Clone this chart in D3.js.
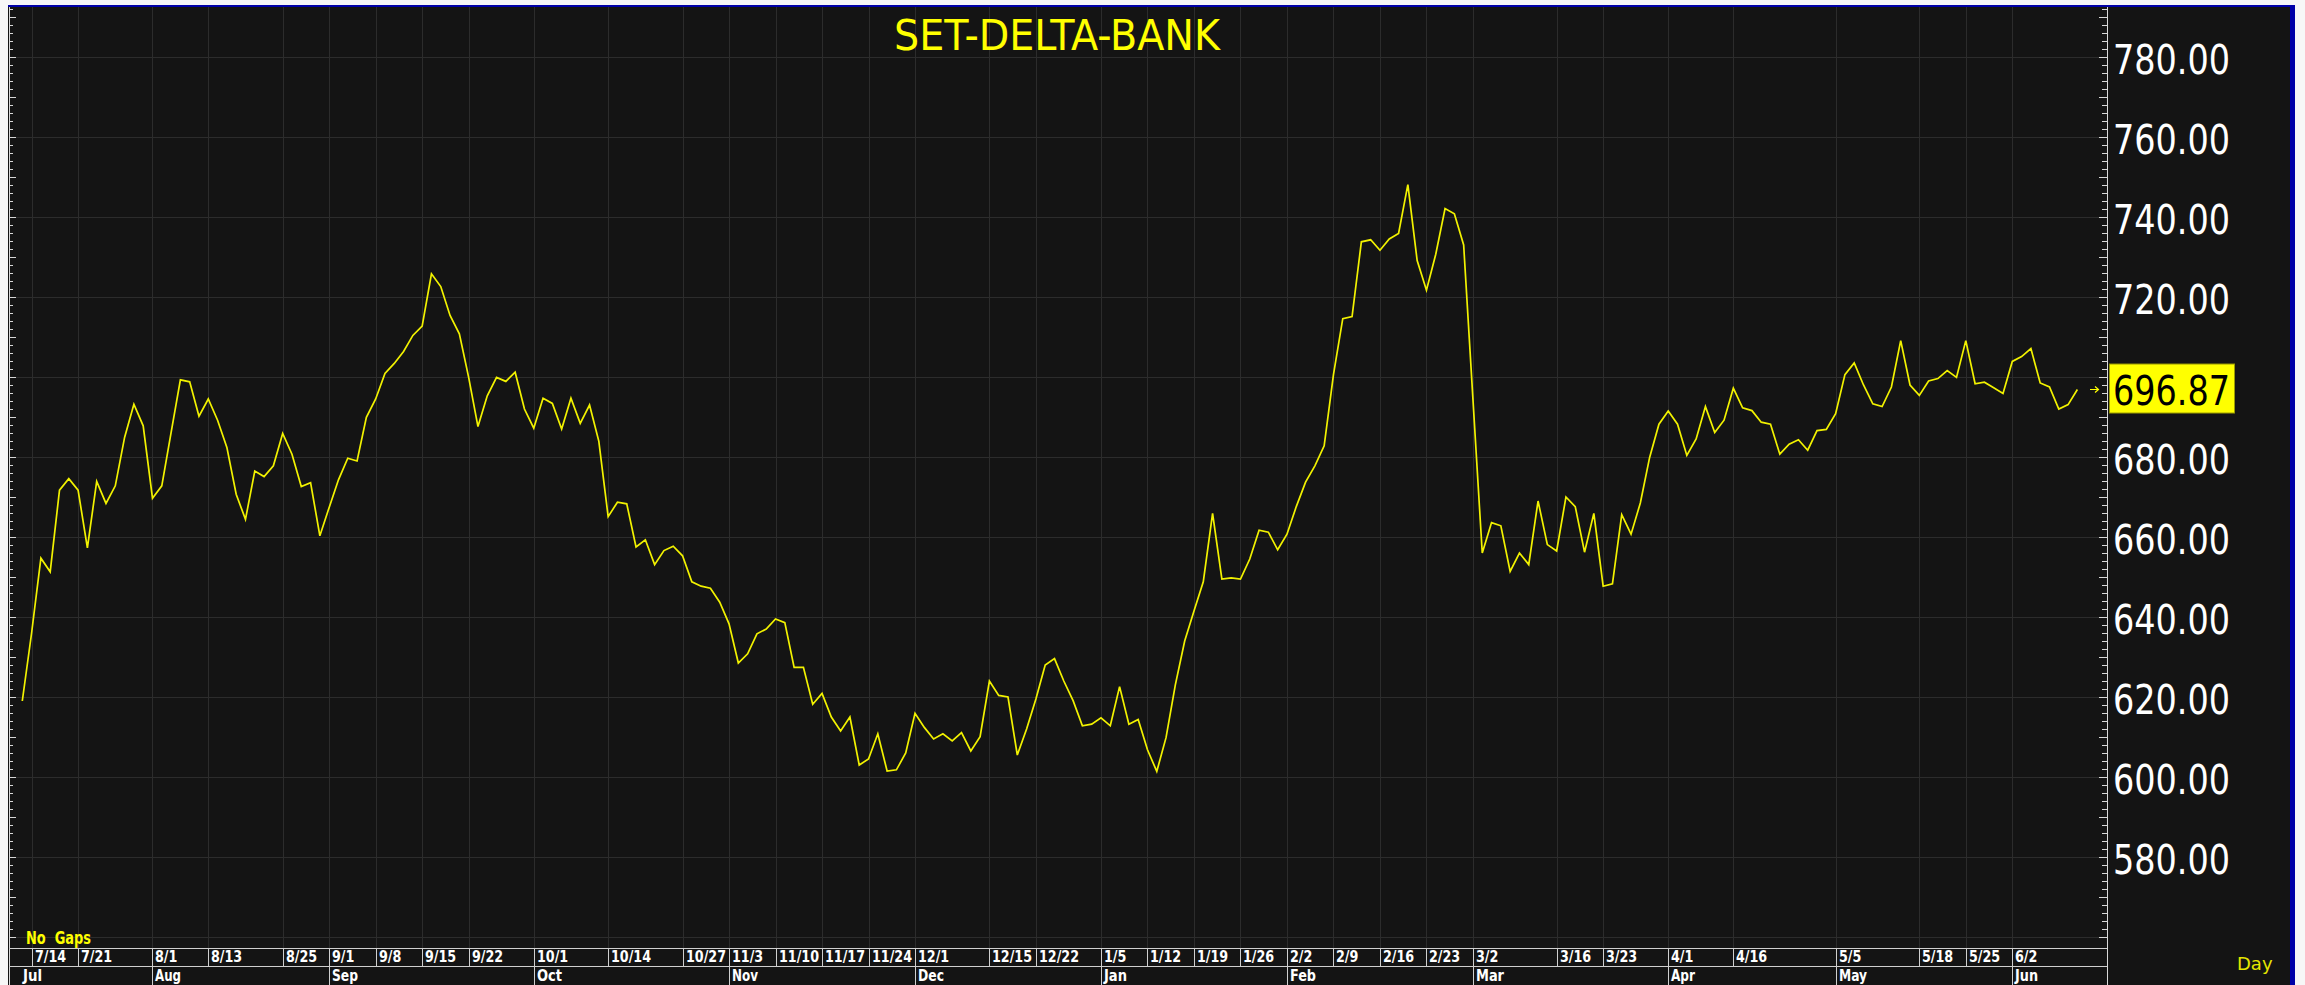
<!DOCTYPE html>
<html><head><meta charset="utf-8">
<script src="https://cdn.jsdelivr.net/npm/d3@7"></script>
<style>html,body{margin:0;padding:0;background:#fff;overflow:hidden}</style>
</head><body>
<svg id="c" width="2305" height="985"></svg>
<script>
// ---------- DATA ----------
const chartTitle = "SET-DELTA-BANK";
const periodLabel = "Day";
const gapLabel = "No  Gaps";
const firstIndex = -1; // trading-day index of first close (7/11)
const closes = [
619,636,654.7,651.3,671.7,674.6,671.7,657.3,673.9,668.4,672.8,684.9,693.2,687.8,669.7,672.8,686.1,699.3,698.8,690.2,
694.5,689.2,682.4,670.7,664.4,676.5,675.1,677.8,685.9,680.7,672.6,673.6,660.3,667.4,674.3,679.7,679.0,689.9,694.5,700.9,
703.4,706.4,710.4,712.7,725.8,722.6,715.4,710.8,699.9,687.6,695.3,699.9,698.9,701.2,692.0,687.2,694.7,693.4,687.0,694.7,
688.4,693.0,683.9,665.1,668.7,668.3,657.5,659.3,653.1,656.6,657.7,655.3,648.8,647.7,647.2,643.7,638.3,628.5,630.8,635.8,
637.0,639.5,638.6,627.4,627.4,618.2,620.9,615.0,611.5,615.0,603.0,604.5,610.8,601.5,601.8,606.0,615.9,612.4,609.5,610.8,
609.0,611.1,606.5,610.1,624.0,620.4,620.0,605.5,612.0,619.5,628.0,629.6,624.0,619.1,612.8,613.2,614.8,612.8,622.6,613.2,
614.4,606.8,601.4,609.9,623.1,634.0,641.5,648.8,665.9,649.5,649.8,649.5,654.5,661.7,661.2,656.8,660.7,667.6,673.7,677.8,
682.8,700.6,714.6,715.1,733.8,734.3,731.7,734.5,735.9,748.1,729.1,721.7,730.7,742.1,740.8,733.0,694.4,656.0,663.6,662.8,
651.4,656.0,653.1,669.0,658.1,656.5,670.0,667.6,656.2,665.9,647.7,648.3,665.6,660.7,668.5,679.9,688.2,691.5,688.2,680.4,
684.5,692.6,686.1,689.2,697.2,692.3,691.6,688.7,688.2,680.7,683.2,684.3,681.7,686.6,686.9,690.8,700.6,703.5,698.0,693.3,
692.6,697.5,709.1,698.0,695.4,699.0,699.6,701.6,699.9,709.1,698.3,698.7,697.3,695.9,703.9,705.1,707.1,698.5,697.5,692.0,
693.1,696.87
];
const xTickLabels = ["7/14","7/21","8/1","8/13","8/25","9/1","9/8","9/15","9/22","10/1","10/14","10/27","11/3","11/10","11/17","11/24","12/1","12/15","12/22","1/5","1/12","1/19","1/26","2/2","2/9","2/16","2/23","3/2","3/16","3/23","4/1","4/16","5/5","5/18","5/25","6/2"];
const xTickIndex  = [0,5,13,19,27,32,37,42,47,54,62,70,75,80,85,90,95,103,108,115,120,125,130,135,140,145,150,155,164,169,176,183,194,203,208,213];
const monthLabels = ["Jul","Aug","Sep","Oct","Nov","Dec","Jan","Feb","Mar","Apr","May","Jun"];
const monthIndex  = [-1,13,32,54,75,95,115,135,155,176,194,213];
const yTickValues = [780,760,740,720,680,660,640,620,600,580]; // 700 is hidden by the last-value box
const lastValue = 696.87;

// ---------- LAYOUT ----------
const W = 2305, H = 985;
const plotL = 9, plotR = 2107, plotT = 7, plotB = 948;
const bandMid = 966;
const svg = d3.select("#c");

const x = d3.scaleLinear().domain([0, 213]).range([31.6, 2012.3]);
const y = d3.scaleLinear().domain([780, 600]).range([57, 777]);

// backgrounds
svg.append("rect").attr("x",0).attr("y",0).attr("width",W).attr("height",H).attr("fill","#f7f7f7");
svg.append("rect").attr("x",8).attr("y",5).attr("width",2287).attr("height",H-5).attr("fill","#0000a8");
svg.append("rect").attr("x",8).attr("y",7).attr("width",2282).attr("height",H-7).attr("fill","#141414");

const grid = svg.append("g").attr("stroke","#2c2c2c").attr("stroke-width",1.2).attr("shape-rendering","crispEdges");
d3.range(560, 800, 20).forEach(v => {
  const yy = Math.round(y(v)) + 0.5;
  if (yy > plotT && yy < plotB) grid.append("line").attr("x1",plotL).attr("x2",plotR).attr("y1",yy).attr("y2",yy);
});
xTickIndex.forEach(i => {
  const xx = Math.round(x(i)) + 0.5;
  grid.append("line").attr("x1",xx).attr("x2",xx).attr("y1",plotT).attr("y2",plotB);
});

// title
svg.append("text").attr("x",894).attr("y",50).attr("font-family","'DejaVu Sans Condensed','DejaVu Sans',sans-serif")
  .attr("font-size",42).attr("fill","#ffff00").attr("textLength",326).attr("lengthAdjust","spacingAndGlyphs").text(chartTitle);

// line
svg.append("defs").append("clipPath").attr("id","clip").append("rect")
  .attr("x",plotL).attr("y",plotT).attr("width",plotR-plotL).attr("height",plotB-plotT);
const line = d3.line().x((d,i)=>x(i+firstIndex)).y(d=>y(d));
svg.append("path").datum(closes).attr("clip-path","url(#clip)").attr("d",line)
  .attr("fill","none").attr("stroke","#f2f200").attr("stroke-width",1.7).attr("stroke-linejoin","miter");

// axes lines
const axisCol = "#d8d8d8";
const ax = svg.append("g").attr("stroke",axisCol).attr("shape-rendering","crispEdges");
ax.append("line").attr("x1",plotL+0.5).attr("x2",plotL+0.5).attr("y1",plotT).attr("y2",H).attr("stroke-width",1.5);
ax.append("line").attr("x1",plotR+0.5).attr("x2",plotR+0.5).attr("y1",plotT).attr("y2",H).attr("stroke-width",1.5);
d3.range(558, 794, 2).forEach(v => {
  const yy = Math.round(y(v)) + 0.5;
  if (yy < plotT+2 || yy > plotB-4) return;
  const major = (v % 10 === 0);
  ax.append("line").attr("x1",plotL).attr("x2",plotL + (major?7:4)).attr("y1",yy).attr("y2",yy);
  ax.append("line").attr("x1",plotR - (major?8:5)).attr("x2",plotR).attr("y1",yy).attr("y2",yy);
});

// right axis labels
const numFont = "'DejaVu Sans Condensed','DejaVu Sans',sans-serif";
yTickValues.forEach(v => {
  svg.append("text").attr("x",2113).attr("y",y(v)+16.5)
    .attr("font-family",numFont).attr("font-size",40)
    .attr("textLength",117).attr("lengthAdjust","spacingAndGlyphs")
    .attr("fill","#ffffff").text(d3.format(".2f")(v));
});
// last value box
const ly = y(lastValue);
svg.append("rect").attr("x",2109.5).attr("y",ly-25.5).attr("width",125).attr("height",49)
  .attr("fill","#ffff00").attr("stroke","#9a9a00").attr("stroke-width",1);
svg.append("text").attr("x",2113).attr("y",ly+15.5)
  .attr("font-family",numFont).attr("font-size",40)
  .attr("textLength",117).attr("lengthAdjust","spacingAndGlyphs")
  .attr("fill","#000000").text(d3.format(".2f")(lastValue));
svg.append("path").attr("d",`M2090,${ly} L2098,${ly} M2095,${ly-3} L2098.5,${ly} L2095,${ly+3}`)
  .attr("stroke","#ffff00").attr("stroke-width",1.2).attr("fill","none");

// bottom bands
const bands = svg.append("g").attr("stroke","#cfcfcf").attr("stroke-width",1.5).attr("shape-rendering","crispEdges");
bands.append("line").attr("x1",plotL).attr("x2",plotR).attr("y1",plotB+0.5).attr("y2",plotB+0.5);
bands.append("line").attr("x1",plotL).attr("x2",plotR).attr("y1",bandMid+0.5).attr("y2",bandMid+0.5);
xTickIndex.forEach(i => {
  const xx = Math.round(x(i)) + 0.5;
  bands.append("line").attr("x1",xx).attr("x2",xx).attr("y1",plotB).attr("y2",bandMid);
});
monthIndex.forEach((i,k) => {
  if (k === 0) return;
  const xx = Math.round(x(i)) + 0.5;
  bands.append("line").attr("x1",xx).attr("x2",xx).attr("y1",bandMid).attr("y2",H);
});
const lblFont = "'Liberation Sans Narrow','DejaVu Sans Condensed',sans-serif";
const labelWidth = t => [...t].reduce((s,c)=> s + (c === "/" ? 4.8 : 8.8), 0);
xTickLabels.forEach((t,k) => {
  svg.append("text").attr("x",Math.round(x(xTickIndex[k]))+3).attr("y",962)
    .attr("font-family",lblFont).attr("font-weight","bold").attr("font-size",16)
    .attr("textLength",labelWidth(t)).attr("lengthAdjust","spacingAndGlyphs")
    .attr("fill","#ffffff").text(t);
});
const monthWidth = {Jul:19,Aug:26,Sep:26,Oct:25,Nov:26,Dec:26,Jan:23,Feb:26,Mar:28,Apr:24,May:28,Jun:23};
monthLabels.forEach((t,k) => {
  svg.append("text").attr("x",Math.round(x(monthIndex[k]))+(k===0?1:3)).attr("y",980.5)
    .attr("font-family",lblFont).attr("font-weight","bold").attr("font-size",16)
    .attr("textLength",monthWidth[t]).attr("lengthAdjust","spacingAndGlyphs")
    .attr("fill","#ffffff").text(t);
});

// No Gaps / Day
svg.append("text").attr("x",26).attr("y",944).attr("font-family",lblFont).attr("font-weight","bold")
  .attr("font-size",18).attr("fill","#ffff00").attr("textLength",65).attr("lengthAdjust","spacingAndGlyphs")
  .attr("xml:space","preserve").text(gapLabel);
svg.append("text").attr("x",2237).attr("y",970).attr("font-family","'DejaVu Sans',sans-serif")
  .attr("font-size",18).attr("fill","#e6e600").text(periodLabel);
</script>
</body></html>
